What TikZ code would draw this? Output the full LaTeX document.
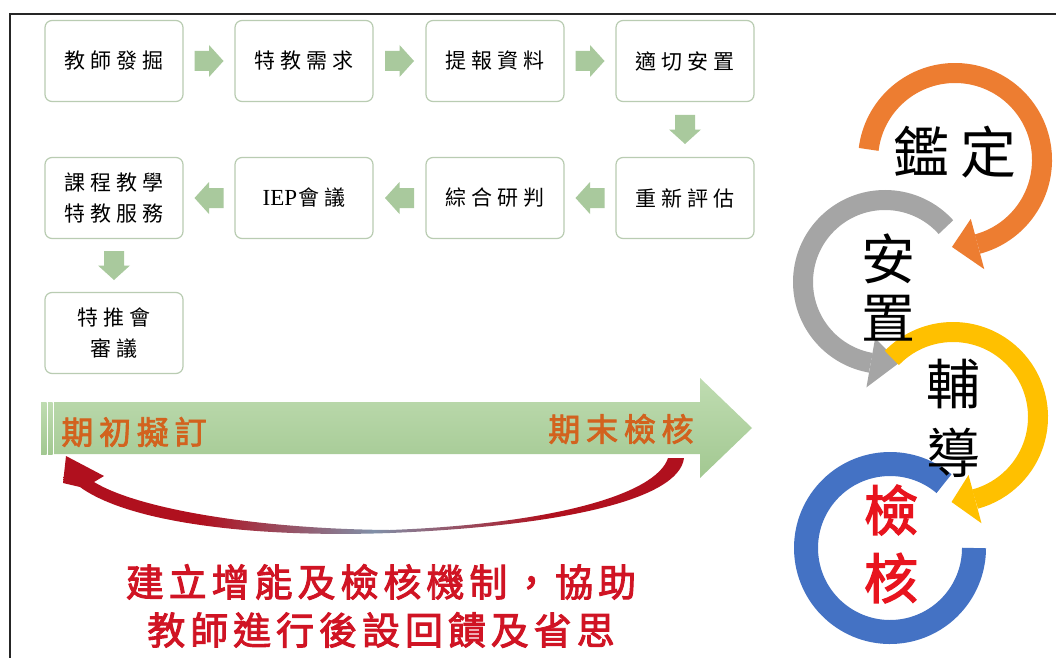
\documentclass[tikz,border=0pt]{standalone}
\usepackage{fontspec}
\newfontfamily\cjk{Noto Sans CJK TC}
\newfontfamily\cjkbold[FakeBold=2.5]{Noto Sans CJK TC}
\newfontfamily\latinserif{Liberation Serif}
\usetikzlibrary{calc}
\definecolor{boxline}{HTML}{B9CCB2}
\definecolor{arrgreen}{HTML}{A9C99D}
\definecolor{bigtop}{HTML}{BFDCB1}
\definecolor{bigbot}{HTML}{A2C891}
\definecolor{ringorange}{HTML}{ED7D31}
\definecolor{ringgray}{HTML}{A5A5A5}
\definecolor{ringyellow}{HTML}{FFC000}
\definecolor{ringblue}{HTML}{4472C4}
\definecolor{txtorange}{HTML}{D2621E}
\definecolor{txtred}{HTML}{D01424}
\definecolor{curvered}{HTML}{B0101E}
\definecolor{curveslate}{HTML}{8090A8}
\definecolor{checkred}{HTML}{E8141E}
\pgfdeclarehorizontalshading{curveshade}{100bp}{color(0bp)=(curvered); color(25bp)=(curvered); color(36bp)=(curvered); color(50bp)=(curveslate); color(64bp)=(curvered); color(75bp)=(curvered); color(100bp)=(curvered)}
\begin{document}
\begin{tikzpicture}[x=1pt,y=-1pt,
  box/.style={draw=boxline, line width=1.2pt, rounded corners=7pt, fill=white,
    minimum width=138pt, minimum height=81pt, align=center, inner sep=0pt,
    font=\cjk\fontsize{21}{31}\selectfont\addfontfeature{LetterSpace=25}},
  blockarr/.pic={\fill[arrgreen] (-14.5,-10) -- (0,-10) -- (0,-16) -- (14.5,0) -- (0,16) -- (0,10) -- (-14.5,10) -- cycle;},
  bartext/.style={inner sep=0pt, font=\cjkbold\fontsize{32}{34}\selectfont\addfontfeature{LetterSpace=18}},
  bottext/.style={inner sep=0pt, font=\cjkbold\fontsize{38}{40}\selectfont\addfontfeature{LetterSpace=13}},
  ringtext/.style={inner sep=0pt, align=center, text=black}
]
\useasboundingbox (0,0) rectangle (1056,658);
\fill[white] (0,0) rectangle (1056,658);
% frame
\draw[line width=1.8pt, black!85] (1056,14) -- (10,14) -- (10,658);

% boxes
\node[box] (b1) at (114,61) {教師發掘};
\node[box] (b2) at (304,61) {特教需求};
\node[box] (b3) at (495,61) {提報資料};
\node[box] (b4) at (685,61) {適切安置};
\node[box] (b5) at (685,198) {重新評估};
\node[box] (b6) at (495,198) {綜合研判};
\node[box] (b7) at (304,198) {{\latinserif\fontsize{23}{31}\selectfont IEP}\kern1pt 會議};
\node[box] (b8) at (114,198) {課程教學\\特教服務};
\node[box] (b9) at (114,333) {特推會\\審議};

% block arrows between boxes
\pic at ($(b1.east)!0.5!(b2.west)$) {blockarr};
\pic at ($(b2.east)!0.5!(b3.west)$) {blockarr};
\pic at ($(b3.east)!0.5!(b4.west)$) {blockarr};
\pic[rotate=-90] at ($(b4.south)!0.5!(b5.north)$) {blockarr};
\pic[rotate=180] at ($(b5.west)!0.5!(b6.east)$) {blockarr};
\pic[rotate=180] at ($(b6.west)!0.5!(b7.east)$) {blockarr};
\pic[rotate=180] at ($(b7.west)!0.5!(b8.east)$) {blockarr};
\pic[rotate=-90] at ($(b8.south)!0.5!(b9.north)$) {blockarr};

% big green arrow
\shade[top color=bigtop, bottom color=bigbot]
  (54,402) -- (700,402) -- (700,378) -- (752,428) -- (700,478) -- (700,454) -- (54,454) -- cycle;
\shade[top color=bigtop, bottom color=bigbot] (41,402) rectangle (46.5,454);
\shade[top color=bigtop, bottom color=bigbot] (48,402) rectangle (52.5,454);

\node[bartext, text=txtorange] (t1) at (134,432) {期初擬訂};
\node[bartext, text=txtorange] (t2) at (621,429) {期末檢核};

% red curved feedback arrow
\shade[shading=curveshade]
  (684,458) .. controls (679,500) and (560,526) .. (390,533)
  .. controls (250,538) and (128,522) .. (80,487)
  -- (63,483) -- (66,456) -- (104,476) -- (94,482)
  .. controls (140,510) and (262,529) .. (390,530)
  .. controls (550,524) and (656,495) .. (668,458) -- cycle;

% bottom text
\node[bottext, text=txtred] (m1) at (381,582) {建立增能及檢核機制，協助};
\node[bottext, text=txtred] (m2) at (381,630) {教師進行後設回饋及省思};

% rings
\coordinate (oc) at (955,160);
\coordinate (gc) at (885,282);
\coordinate (yc) at (953,417);
\coordinate (bc) at (890,548);

\draw[ringorange, line width=20pt] ($(oc)+(-173:87)$) arc[start angle=-173, end angle=75, radius=87];
\fill[ringorange] ($(oc)+(75:61)$) -- ($(oc)+(92:87)$) -- ($(oc)+(75:113)$) -- cycle;

\draw[ringgray, line width=20pt] ($(gc)+(-42:82)$) arc[start angle=-42, end angle=-260, radius=82];
\fill[ringgray] ($(gc)+(-260:57)$) -- ($(gc)+(-280:82)$) -- ($(gc)+(-260:107)$) -- cycle;

\draw[ringyellow, line width=20pt] ($(yc)+(-136:85)$) arc[start angle=-136, end angle=75, radius=85];
\fill[ringyellow] ($(yc)+(75:60)$) -- ($(yc)+(91:85)$) -- ($(yc)+(75:110)$) -- cycle;

\draw[ringblue, line width=24pt] ($(bc)+(-50:84)$) arc[start angle=-50, end angle=-360, radius=84];

\node[ringtext, font=\cjk\fontsize{56}{60}\selectfont] (r1) at (955,152) {鑑\kern12pt 定};
\node[ringtext, font=\cjk\fontsize{54}{59}\selectfont] (r2) at (888,288) {安\\置};
\node[ringtext, font=\cjk\fontsize{54}{69}\selectfont] (r3) at (953,418) {輔\\導};
\node[ringtext, text=checkred, font=\cjkbold\fontsize{54}{68}\selectfont] (r4) at (891,544) {檢\\核};
\end{tikzpicture}
\end{document}
